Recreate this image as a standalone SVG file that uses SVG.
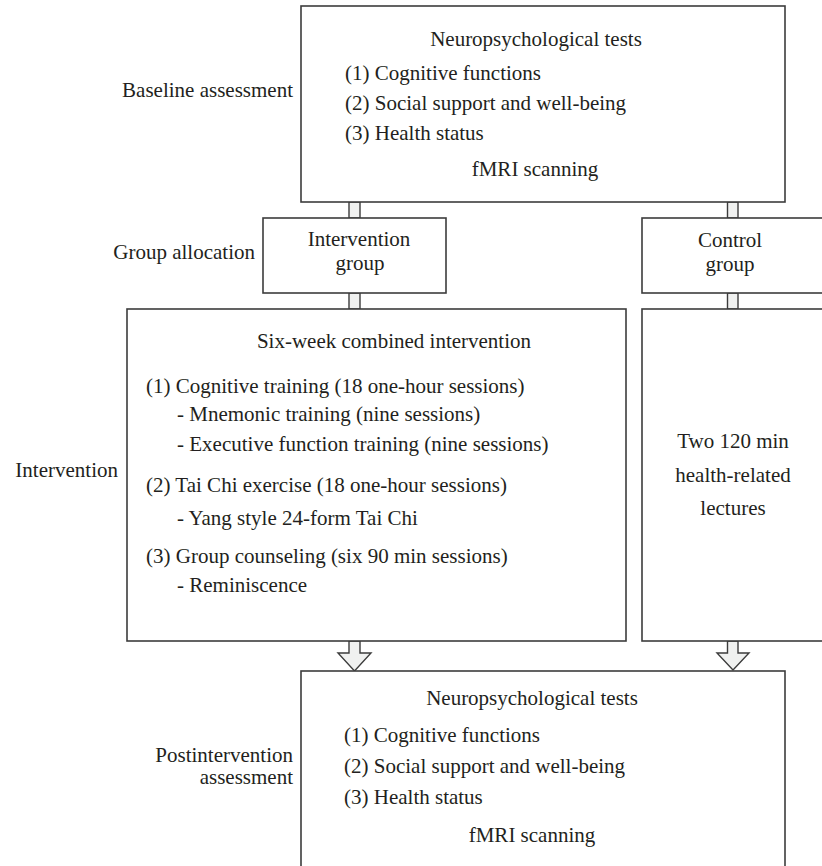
<svg xmlns="http://www.w3.org/2000/svg" width="822" height="866" viewBox="0 0 822 866">
<style>
.box{fill:#fff;stroke:#3c3c3c;stroke-width:1.6}
.conn{fill:#f0f1f0;stroke:#3c3c3c;stroke-width:1.4;stroke-linejoin:miter}
text{font-family:"Liberation Serif","Times New Roman",serif;font-size:21px;fill:#231f20}
.m{text-anchor:middle}
.e{text-anchor:end}
</style>
<rect width="822" height="866" fill="#fff"/>

<g id="connectors">
<rect class="conn" x="349" y="202" width="11" height="16"/>
<rect class="conn" x="727.5" y="202" width="10.5" height="16"/>
<rect class="conn" x="349" y="293" width="11" height="16"/>
<rect class="conn" x="727.5" y="293" width="10.5" height="16"/>
<polygon class="conn" points="349,641 360,641 360,653 371,653 354.5,671 338,653 349,653"/>
<polygon class="conn" points="727.5,641 738,641 738,653 749,653 733,670 717,653 727.5,653"/>
</g>

<g id="labels">
<text class="e" x="293" y="97">Baseline assessment</text>
<text class="e" x="255" y="259">Group allocation</text>
<text class="e" x="118" y="477">Intervention</text>
<text class="e" x="293" y="762">Postintervention</text>
<text class="e" x="293" y="784">assessment</text>
</g>

<g id="baseline">
<rect class="box" x="301" y="6" width="484" height="196"/>
<text class="m" x="536" y="46">Neuropsychological tests</text>
<text x="345" y="80">(1) Cognitive functions</text>
<text x="345" y="110">(2) Social support and well-being</text>
<text x="345" y="140">(3) Health status</text>
<text class="m" x="535" y="176">fMRI scanning</text>
</g>

<g id="intervention-group">
<rect class="box" x="263" y="218" width="183" height="75"/>
<text class="m" x="359" y="246">Intervention</text>
<text class="m" x="360" y="270">group</text>
</g>

<g id="control-group">
<rect class="box" x="642" y="218" width="184" height="75"/>
<text class="m" x="730" y="247">Control</text>
<text class="m" x="730" y="271">group</text>
</g>

<g id="intervention">
<rect class="box" x="127" y="309" width="499" height="332"/>
<text class="m" x="394" y="348">Six-week combined intervention</text>
<text x="146" y="393">(1) Cognitive training (18 one-hour sessions)</text>
<text x="177" y="421">- Mnemonic training (nine sessions)</text>
<text x="177" y="451">- Executive function training (nine sessions)</text>
<text x="146" y="492">(2) Tai Chi exercise (18 one-hour sessions)</text>
<text x="177" y="525">- Yang style 24-form Tai Chi</text>
<text x="146" y="563">(3) Group counseling (six 90 min sessions)</text>
<text x="177" y="592">- Reminiscence</text>
</g>

<g id="control">
<rect class="box" x="642" y="309" width="184" height="332"/>
<text class="m" x="733" y="448">Two 120 min</text>
<text class="m" x="733" y="482">health-related</text>
<text class="m" x="733" y="515">lectures</text>
</g>

<g id="postintervention">
<rect class="box" x="301" y="671" width="484" height="200"/>
<text class="m" x="532" y="705">Neuropsychological tests</text>
<text x="344" y="742">(1) Cognitive functions</text>
<text x="344" y="773">(2) Social support and well-being</text>
<text x="344" y="804">(3) Health status</text>
<text class="m" x="532" y="842">fMRI scanning</text>
</g>
</svg>
